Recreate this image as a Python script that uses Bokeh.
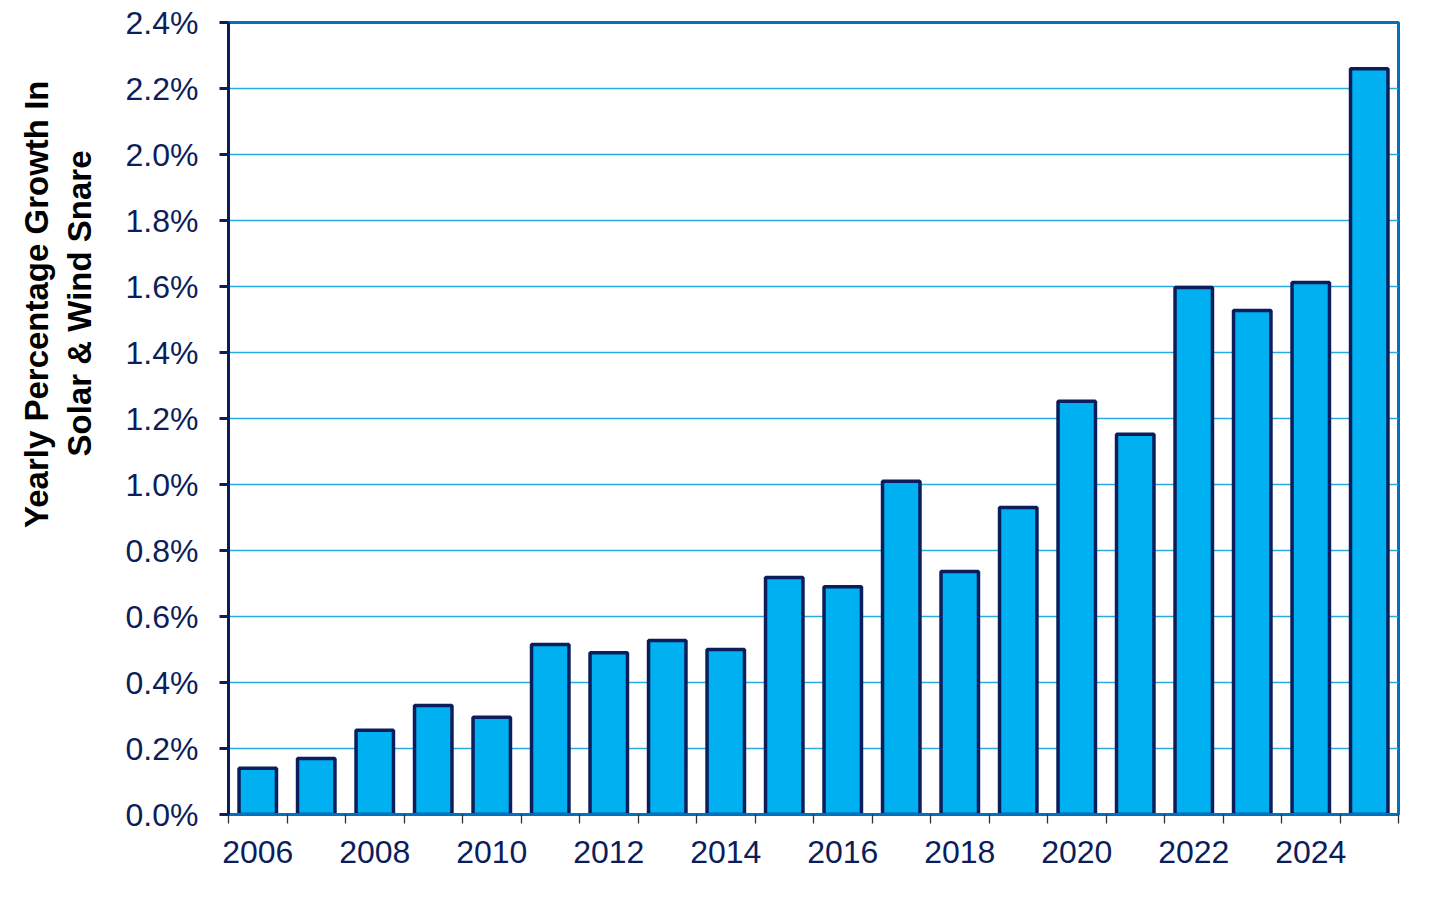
from bokeh.embed import file_html
from bokeh.models import ColumnDataSource, FixedTicker, PrintfTickFormatter, Title
from bokeh.plotting import figure
from bokeh.resources import INLINE

# Yearly percentage-point growth in the solar & wind share
years = list(range(2006, 2026))
growth_pct = [0.14, 0.17, 0.255, 0.33, 0.295, 0.515, 0.49, 0.527, 0.50, 0.718,
              0.69, 1.01, 0.736, 0.93, 1.252, 1.152, 1.597, 1.527, 1.612, 2.26]
y_ticks = [0.0, 0.2, 0.4, 0.6, 0.8, 1.0, 1.2, 1.4, 1.6, 1.8, 2.0, 2.2, 2.4]
label_years = [2006, 2008, 2010, 2012, 2014, 2016, 2018, 2020, 2022, 2024]
y_title_lines = ["Yearly Percentage Growth In", "Solar & Wind Snare"]

NAVY = "#0b1e5b"
BLUE = "#0070c0"
CYAN = "#00b0f0"
FONT = "Liberation Sans"

source = ColumnDataSource(data={"year": years, "growth": growth_pct})

p = figure(
    width=1440,
    height=895,
    x_range=(years[0] - 0.5, years[-1] + 0.5),
    y_range=(y_ticks[0], y_ticks[-1]),
    output_backend="svg",
    toolbar_location=None,
    min_border_left=228,
    min_border_right=42,
    min_border_top=22,
    min_border_bottom=81,
)
p.background_fill_color = "white"
p.border_fill_color = "white"
p.outline_line_color = BLUE
p.outline_line_width = 3

p.vbar(x="year", top="growth", width=0.64, source=source,
       fill_color=CYAN, line_color=NAVY, line_width=3.5)

# grid
p.xgrid.visible = False
p.ygrid.ticker = FixedTicker(ticks=y_ticks)
p.ygrid.grid_line_color = "#29abe2"
p.ygrid.grid_line_width = 1.4

# y axis
yax = p.yaxis[0]
yax.ticker = FixedTicker(ticks=y_ticks)
yax.formatter = PrintfTickFormatter(format="%.1f%%")
yax.axis_line_color = NAVY
yax.axis_line_width = 3
yax.major_tick_line_color = NAVY
yax.major_tick_line_width = 3
yax.major_tick_out = 9
yax.major_tick_in = 0
yax.minor_tick_line_color = None
yax.major_label_standoff = 21
yax.major_label_text_font = FONT
yax.major_label_text_font_size = "32px"
yax.major_label_text_color = NAVY

# x axis: ticks at the year boundaries, labels on even years
boundaries = [y - 0.5 for y in years] + [years[-1] + 0.5]
xax = p.xaxis[0]
xax.ticker = FixedTicker(ticks=label_years, minor_ticks=boundaries)
xax.axis_line_color = BLUE
xax.axis_line_width = 3
xax.major_tick_line_color = None
xax.major_tick_out = 9
xax.major_tick_in = 0
xax.minor_tick_line_color = "#333333"
xax.minor_tick_line_width = 1.3
xax.minor_tick_out = 9
xax.minor_tick_in = 0
xax.major_label_standoff = 17
xax.major_label_text_font = FONT
xax.major_label_text_font_size = "32px"
xax.major_label_text_color = NAVY

# axis title in two lines (second one nearest the axis), set high like the original
for line, standoff, offset in zip(reversed(y_title_lines), [49, -40], [128, 58]):
    p.add_layout(Title(
        text=line, align="right", offset=offset, standoff=standoff,
        text_font=FONT, text_font_size="33px", text_font_style="bold",
        text_color="black",
    ), "left")

open("out.html", "w").write(file_html(p, INLINE))
